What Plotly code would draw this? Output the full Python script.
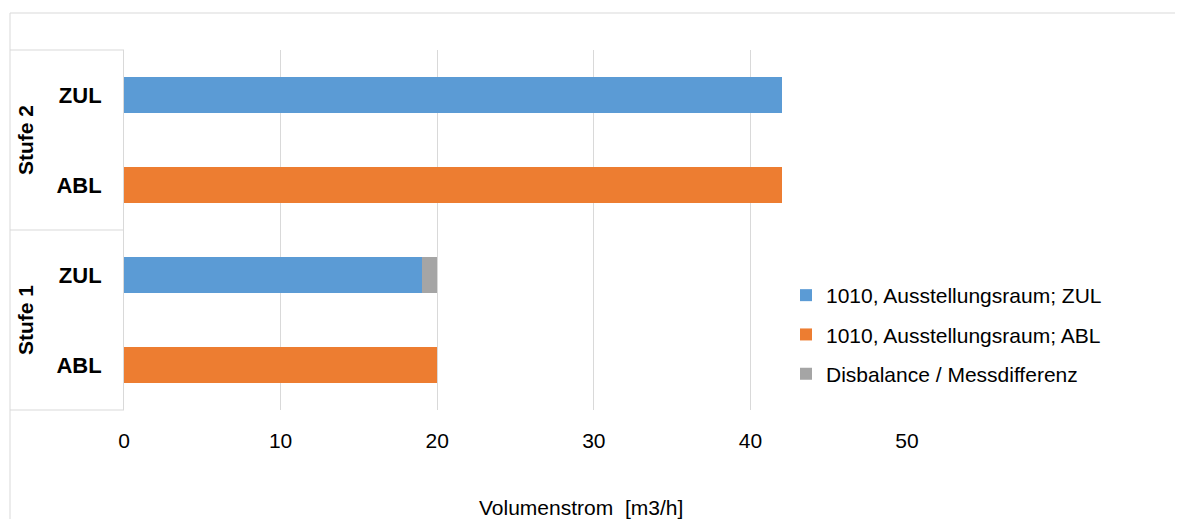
import plotly.graph_objects as go

# ---- data ----
categories = ["Stufe 1 ABL", "Stufe 1 ZUL", "Stufe 2 ABL", "Stufe 2 ZUL"]  # bottom -> top
category_labels = ["ABL", "ZUL", "ABL", "ZUL"]
groups = ["Stufe 1", "Stufe 2"]

zul_cats = ["Stufe 1 ZUL", "Stufe 2 ZUL"]
zul_values = [19, 42]
abl_cats = ["Stufe 1 ABL", "Stufe 2 ABL"]
abl_values = [20, 42]
dis_cats = ["Stufe 1 ZUL"]
dis_values = [1]

series_names = ["1010, Ausstellungsraum; ZUL", "1010, Ausstellungsraum; ABL", "Disbalance / Messdifferenz"]
colors = ["#5B9BD5", "#ED7D31", "#A5A5A5"]

x_ticks = [0, 10, 20, 30, 40, 50]
x_title = "Volumenstrom  [m3/h]"

FONT = "Liberation Sans, Arial, sans-serif"
OFF = 8  # page body margin
W, H = 1183 - OFF, 519 - OFF
PL, PR, PT, PB = 124, 907, 50, 410  # plot area in page pixels
L, T = PL - OFF, PT - OFF
R = W - (PR - OFF)
B = H - (PB - OFF)
pw, ph = PR - PL, PB - PT


def px_x(p):
    return (p - PL) / pw


def px_y(p):
    return (PB - p) / ph


fig = go.Figure()
fig.add_trace(go.Bar(y=zul_cats, x=zul_values, orientation="h", name=series_names[0],
                     legendgroup="a", marker=dict(color=colors[0], line=dict(width=0))))
fig.add_trace(go.Bar(y=abl_cats, x=abl_values, orientation="h", name=series_names[1],
                     legendgroup="b", marker=dict(color=colors[1], line=dict(width=0))))
fig.add_trace(go.Bar(y=dis_cats, x=dis_values, orientation="h", name=series_names[2],
                     legendgroup="c", marker=dict(color=colors[2], line=dict(width=0))))

shapes = []
grid = "#D9D9D9"
# chart border (top and left)
shapes.append(dict(type="line", xref="paper", yref="paper", x0=px_x(10), x1=px_x(1190),
                   y0=px_y(13), y1=px_y(13), line=dict(color=grid, width=1)))
shapes.append(dict(type="line", xref="paper", yref="paper", x0=px_x(10), x1=px_x(10),
                   y0=px_y(13), y1=px_y(530), line=dict(color=grid, width=1)))
# category box separators
for yy in [50, 230, 410]:
    shapes.append(dict(type="line", xref="paper", yref="paper", x0=px_x(10), x1=0,
                       y0=px_y(yy), y1=px_y(yy), line=dict(color=grid, width=1)))

annotations = []
for g, yc in zip(groups, [320, 140]):
    annotations.append(dict(text="<b>%s</b>" % g, xref="paper", yref="paper", x=px_x(25), y=px_y(yc),
                            textangle=-90, showarrow=False, xanchor="center", yanchor="middle",
                            font=dict(family=FONT, size=21, color="#000000")))
annotations.append(dict(text=x_title, xref="paper", yref="paper", x=px_x(581), y=px_y(507),
                        showarrow=False, xanchor="center", yanchor="middle",
                        font=dict(family=FONT, size=21, color="#000000")))

fig.update_layout(
    width=W, height=H,
    margin=dict(l=L, r=R, t=T, b=B, pad=0),
    paper_bgcolor="white", plot_bgcolor="white",
    barmode="stack", bargap=0.61,
    font=dict(family=FONT, size=21, color="#000000"),
    showlegend=True,
    legend=dict(x=px_x(786), y=px_y(334.5), xanchor="left", yanchor="middle",
                traceorder="grouped", font=dict(family=FONT, size=21, color="#000000"),
                bgcolor="white", itemwidth=30, tracegroupgap=9),
    shapes=shapes,
    annotations=annotations,
    xaxis=dict(range=[0, 50], tickvals=x_ticks, showgrid=True, gridcolor=grid, gridwidth=1,
               zeroline=False, showline=False, ticks="", ticklabelstandoff=16,
               tickfont=dict(family=FONT, size=21, color="#000000"), fixedrange=True),
    yaxis=dict(type="category", categoryorder="array", categoryarray=categories,
               tickvals=categories, ticktext=["<b>%s</b>" % c for c in category_labels],
               showgrid=False, zeroline=False, showline=True, linecolor=grid, linewidth=1,
               ticks="", ticklabelstandoff=17,
               tickfont=dict(family=FONT, size=22, color="#000000"), fixedrange=True),
)

fig.write_html("out.html")
